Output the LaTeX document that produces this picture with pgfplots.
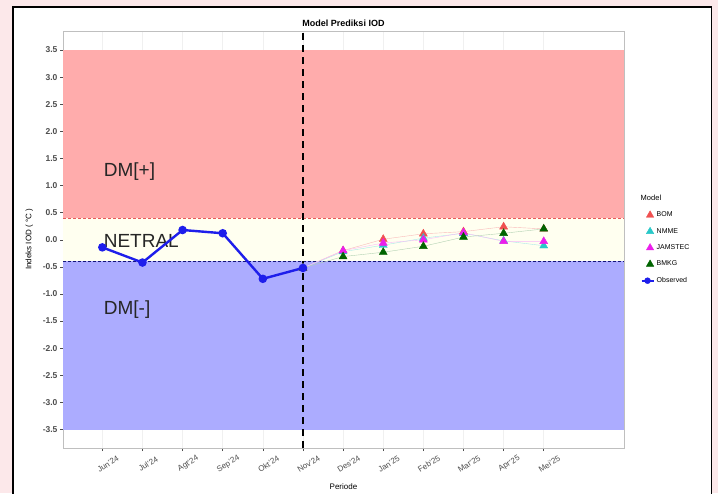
\documentclass[border=0pt]{standalone}
\usepackage{pgfplots}
\pgfplotsset{compat=1.18}
\usepackage{fontspec}
\setmainfont{Liberation Sans}
\definecolor{bgpink}{RGB}{252,232,234}
\definecolor{redzone}{RGB}{255,172,172}
\definecolor{yelzone}{RGB}{255,255,240}
\definecolor{bluezone}{RGB}{172,172,255}
\definecolor{bomc}{RGB}{240,80,80}
\definecolor{nmmec}{RGB}{40,200,200}
\definecolor{jamc}{RGB}{235,30,235}
\definecolor{bmkgc}{RGB}{0,100,0}
\definecolor{obsc}{RGB}{30,30,235}
\definecolor{tickgrey}{RGB}{77,77,77}
\begin{document}
\begin{tikzpicture}
\useasboundingbox (0pt,0pt) rectangle (718pt,493pt);
\fill[bgpink] (0pt,0pt) rectangle (718pt,493pt);
\filldraw[fill=white,draw=black,line width=1.6pt] (13pt,-10pt) rectangle (711.5pt,486pt);
\begin{axis}[
  at={(63pt,45pt)}, anchor=south west,
  scale only axis, width=561pt, height=417pt,
  xmin=-0.98, xmax=13.0, ymin=-3.84, ymax=3.85,
  xtick={0,...,11},
  xticklabels={Jun'24,Jul'24,Agt'24,Sep'24,Okt'24,Nov'24,Des'24,Jan'25,Feb'25,Mar'25,Apr'25,Mei'25},
  ytick={-3.5,-3,...,3.5},
  yticklabel={\pgfmathprintnumber[fixed,fixed zerofill,precision=1]{\tick}},
  /pgf/number format/assume math mode=true,
  xtick pos=bottom, ytick pos=left,
  tick align=outside, major tick length=3pt,
  tick style={tickgrey, line width=0.5pt},
  axis line style={gray!50, line width=0.8pt},
  grid=major, grid style={gray!12, line width=0.5pt},
  ticklabel style={font=\fontsize{8.5}{10}\selectfont\bfseries, text=tickgrey},
  yticklabel style={xshift=1pt},
  xticklabel style={rotate=32, anchor=center, yshift=-14pt, xshift=-2pt, font=\fontsize{8}{10}\selectfont, text=tickgrey},
  title={Model Prediksi IOD},
  title style={font=\fontsize{9}{11}\selectfont\bfseries, yshift=-5pt},
  xlabel={Periode}, xlabel style={at={(axis description cs:0.5,0)}, anchor=center, yshift=-39pt, font=\fontsize{8}{10}\selectfont},
  ylabel={Indeks IOD ( °C )}, ylabel style={font=\fontsize{8}{10}\selectfont, yshift=3pt},
  legend style={at={(1.027,0.5)}, anchor=west, draw=none, fill=white,
    font=\fontsize{7}{8}\selectfont, row sep=6pt, inner sep=1pt},
  legend cell align=left,
]
% zones
\addplot[draw=none, fill=redzone, forget plot] coordinates {(-0.98,0.4) (13,0.4) (13,3.5) (-0.98,3.5)} -- cycle;
\addplot[draw=none, fill=yelzone, forget plot] coordinates {(-0.98,-0.4) (13,-0.4) (13,0.4) (-0.98,0.4)} -- cycle;
\addplot[draw=none, fill=bluezone, forget plot] coordinates {(-0.98,-3.5) (13,-3.5) (13,-0.4) (-0.98,-0.4)} -- cycle;
\addplot[draw={rgb,255:red,230;green,90;blue,90}, dash pattern=on 3pt off 2pt, line width=0.8pt, forget plot] coordinates {(-0.98,0.4) (13,0.4)};
\addplot[draw={rgb,255:red,20;green,20;blue,120}, dash pattern=on 3pt off 2pt, line width=1.3pt, forget plot] coordinates {(-0.98,-0.4) (13,-0.4)};
\addplot[black, dash pattern=on 7pt off 5pt, line width=1.8pt, forget plot] coordinates {(5,-3.84) (5,3.85)};
% zone labels
\node[anchor=west, font=\fontsize{19}{22}\selectfont, text=black!85] at (axis cs:-0.05,1.25) {DM[+]};
\node[anchor=west, font=\fontsize{19}{22}\selectfont, text=black!85] at (axis cs:-0.05,-0.02) {NETRAL};
\node[anchor=west, font=\fontsize{19}{22}\selectfont, text=black!85] at (axis cs:-0.05,-1.29) {DM[-]};
% faint model lines
\addplot[bomc!40, line width=0.4pt, forget plot] coordinates {(5,-0.52) (6,-0.20) (7,0.01) (8,0.11) (9,0.15) (10,0.24) (11,0.20)};
\addplot[nmmec!40, line width=0.4pt, forget plot] coordinates {(5,-0.52) (6,-0.22) (7,-0.10) (8,0.03) (9,0.12) (10,-0.02) (11,-0.11)};
\addplot[jamc!30, line width=0.4pt, forget plot] coordinates {(5,-0.52) (6,-0.20) (7,-0.06) (8,0.00) (9,0.13) (10,-0.03) (11,-0.03)};
\addplot[bmkgc!30, line width=0.4pt, forget plot] coordinates {(5,-0.52) (6,-0.31) (7,-0.23) (8,-0.12) (9,0.05) (10,0.12) (11,0.20)};
% model markers
\addplot[only marks, mark=triangle*, mark size=4.6pt, color=bomc, forget plot] coordinates {(5,-0.52) (6,-0.20) (7,0.01) (8,0.11) (9,0.15) (10,0.24) (11,0.20)};
\addplot[only marks, mark=triangle*, mark size=4.6pt, color=nmmec, forget plot] coordinates {(5,-0.52) (6,-0.22) (7,-0.10) (8,0.03) (9,0.12) (10,-0.02) (11,-0.11)};
\addplot[only marks, mark=triangle*, mark size=4.6pt, color=jamc, forget plot] coordinates {(5,-0.52) (6,-0.20) (7,-0.06) (8,0.00) (9,0.13) (10,-0.03) (11,-0.03)};
\addplot[only marks, mark=triangle*, mark size=4.6pt, color=bmkgc, forget plot] coordinates {(5,-0.52) (6,-0.31) (7,-0.23) (8,-0.12) (9,0.05) (10,0.12) (11,0.20)};
% observed
\addplot[obsc, line width=2.4pt, mark=*, mark size=3pt, forget plot] coordinates {(0,-0.14) (1,-0.42) (2,0.18) (3,0.12) (4,-0.72) (5,-0.52)};
% legend
\addlegendimage{empty legend}\addlegendentry{\hspace{-16pt}\fontsize{7.5}{9}\selectfont Model}
\addlegendimage{only marks, mark=triangle*, mark size=4.3pt, color=bomc}\addlegendentry{BOM}
\addlegendimage{only marks, mark=triangle*, mark size=4.3pt, color=nmmec}\addlegendentry{NMME}
\addlegendimage{only marks, mark=triangle*, mark size=4.3pt, color=jamc}\addlegendentry{JAMSTEC}
\addlegendimage{only marks, mark=triangle*, mark size=4.3pt, color=bmkgc}\addlegendentry{BMKG}
\addlegendimage{legend image code/.code={\draw[obsc, line width=2.4pt] (0pt,0pt) -- (12pt,0pt); \fill[obsc] (6pt,0pt) circle (3pt);}}\addlegendentry{Observed}
\end{axis}
\end{tikzpicture}
\end{document}
